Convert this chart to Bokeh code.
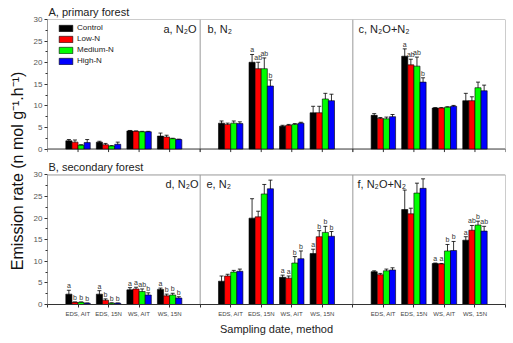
import math
import numpy as np
from bokeh.plotting import figure
from bokeh.models import (Range1d, FixedTicker, Label, Legend, LegendItem, Whisker,
                          TeeHead, ColumnDataSource, Title)
from bokeh.embed import file_html
from bokeh.resources import INLINE
from bokeh.core.properties import value

# ---------------- data ----------------
categories = ["EDS, AIT", "EDS, 15N", "WS, AIT", "WS, 15N"]
treatments = ["Control", "Low-N", "Medium-N", "High-N"]
colors = ["#000000", "#FF0000", "#00FF00", "#0000FF"]

# rows: treatments (Control, Low-N, Medium-N, High-N); columns: categories
a_mean = [[1.9, 1.6, 4.2, 3.0], [1.6, 1.0, 4.1, 2.8], [0.9, 0.7, 4.0, 2.4], [1.5, 1.1, 4.0, 2.2]]
a_err = [[0.3, 0.2, 0.1, 0.7], [0.5, 0.3, 0.1, 0.4], [0.1, 0.1, 0.1, 0.1], [0.7, 0.5, 0.1, 0.1]]
a_let = [["", "", "", ""], ["", "", "", ""], ["", "", "", ""], ["", "", "", ""]]

b_mean = [[6.0, 20.1, 5.3, 8.4], [5.7, 18.6, 5.5, 8.4], [6.0, 18.6, 5.7, 11.6], [5.9, 14.6, 6.0, 11.2]]
b_err = [[0.5, 1.8, 0.2, 1.5], [0.3, 1.5, 0.2, 1.5], [0.5, 2.5, 0.2, 1.3], [0.4, 1.4, 0.2, 1.5]]
b_let = [["", "a", "", ""], ["", "ab", "", ""], ["", "ab", "", ""], ["", "b", "", ""]]

c_mean = [[7.8, 21.5, 9.5, 11.2], [7.1, 19.5, 9.5, 11.2], [7.0, 19.2, 9.7, 14.2], [7.5, 15.5, 9.9, 13.5]]
c_err = [[0.4, 1.7, 0.1, 1.7], [0.2, 1.3, 0.1, 0.9], [0.4, 2.1, 0.1, 1.3], [0.5, 1.0, 0.2, 1.3]]
c_let = [["", "a", "", ""], ["", "ab", "", ""], ["", "ab", "", ""], ["", "b", "", ""]]

d_mean = [[2.4, 2.4, 3.4, 3.5], [0.5, 1.0, 3.6, 2.0], [0.5, 0.3, 3.0, 2.2], [0.3, 0.3, 2.2, 1.5]]
d_err = [[0.9, 0.8, 0.5, 0.3], [0.1, 0.3, 0.4, 0.4], [0.1, 0.1, 0.6, 0.4], [0.05, 0.05, 0.5, 0.3]]
d_let = [["a", "a", "a", "a"], ["b", "b", "a", "b"], ["b", "b", "ab", "b"], ["b", "b", "b", "b"]]

e_mean = [[5.4, 20.0, 6.3, 11.8], [6.6, 20.3, 6.1, 15.7], [7.5, 25.6, 9.6, 16.7], [7.7, 26.8, 10.6, 15.8]]
e_err = [[1.2, 4.5, 0.5, 1.0], [0.4, 1.3, 0.5, 1.4], [0.4, 2.2, 1.5, 1.4], [0.5, 2.0, 1.8, 1.1]]
e_let = [["", "", "a", "a"], ["", "", "a", "b"], ["", "", "b", "b"], ["", "", "b", "b"]]

f_mean = [[7.6, 22.0, 9.5, 14.9], [6.9, 21.0, 9.4, 17.2], [7.8, 25.8, 12.4, 18.4], [8.0, 26.9, 12.5, 17.0]]
f_err = [[0.2, 4.5, 0.1, 0.8], [0.3, 1.3, 0.1, 1.1], [0.4, 2.3, 1.5, 0.9], [0.5, 2.2, 2.1, 1.1]]
f_let = [["", "", "a", "a"], ["", "", "a", "ab"], ["", "", "b", "b"], ["", "", "b", "ab"]]

panel_titles = ["a, N\u2082O", "b, N\u2082", "c, N\u2082O+N\u2082",
                "d, N\u2082O", "e, N\u2082", "f, N\u2082O+N\u2082"]
row_titles = ["A, primary forest", "B, secondary forest"]
x_title = "Sampling date, method"
y_title = "Emission rate (n mol g\u207b\u00b9.h\u207b\u00b9)"
y_ticks = [0, 5, 10, 15, 20, 25, 30]

# ---------------- layout constants ----------------
W, H = 513, 343
FL, FR, FT, FB = 47, 505, 19, 304
ROW = 30
GAP = 6
TOP = ROW + GAP
NPAN = 3
PW = 5  # x-units per panel
FONT = "Liberation Sans"
DARK = "#333333"
GRAY = "#999999"
bar_w = 0.2
offsets = [-0.3, -0.1, 0.1, 0.3]

p = figure(width=W, height=H, x_range=Range1d(0, NPAN * PW), y_range=Range1d(0, TOP + ROW),
           output_backend="svg", toolbar_location=None,
           min_border_left=FL, min_border_right=W - FR, min_border_top=FT, min_border_bottom=H - FB)
p.grid.visible = False
p.outline_line_color = None
p.background_fill_color = "white"

p.title = Title(text=row_titles[0], align="left", offset=1, standoff=3,
                text_font_size="11px", text_font=FONT, text_font_style="normal",
                text_color="#222222")

# x axis (bottom row)
xt = list(range(NPAN * PW + 1))
over = {}
for t in xt:
    k = t % PW
    over[t] = categories[k - 1] if 1 <= k <= 4 else ""
p.xaxis.ticker = FixedTicker(ticks=xt)
p.xaxis.major_label_overrides = over
p.xaxis.major_label_text_font_size = "6px"
p.xaxis.major_label_text_font = FONT
p.xaxis.major_label_text_color = "#444444"
p.xaxis.major_label_standoff = 3
p.xaxis.major_tick_in = 0
p.xaxis.major_tick_out = 3
p.xaxis.minor_tick_line_color = None
p.xaxis.axis_line_color = DARK
p.xaxis.major_tick_line_color = DARK
p.xaxis.axis_label = x_title
p.xaxis.axis_label_text_font_size = "11px"
p.xaxis.axis_label_text_font = FONT
p.xaxis.axis_label_text_font_style = "normal"
p.xaxis.axis_label_text_color = "#222222"
p.xaxis.axis_label_standoff = 3

# y axis (both rows)
yt = y_ticks + [TOP + v for v in y_ticks]
ym = [v + 2.5 for v in y_ticks[:-1]] + [TOP + v + 2.5 for v in y_ticks[:-1]]
p.yaxis.ticker = FixedTicker(ticks=yt, minor_ticks=ym)
yover = {v: str(v) for v in y_ticks}
yover.update({TOP + v: str(v) for v in y_ticks})
p.yaxis.major_label_overrides = yover
p.yaxis.axis_line_color = None
p.yaxis.major_tick_in = 0
p.yaxis.major_tick_out = 3
p.yaxis.minor_tick_in = 0
p.yaxis.minor_tick_out = 2
p.yaxis.major_tick_line_color = DARK
p.yaxis.minor_tick_line_color = DARK
p.yaxis.major_label_text_font_size = "8px"
p.yaxis.major_label_text_font = FONT
p.yaxis.major_label_text_color = "#555555"
p.yaxis.major_label_standoff = 2
# trailing no-break spaces nudge the centred label towards the bottom, as in the reference
p.yaxis.axis_label = y_title + "\u00a0\u00a0\u00a0\u00a0"
p.yaxis.axis_label_text_font_size = "16px"
p.yaxis.axis_label_text_font = FONT
p.yaxis.axis_label_text_font_style = "normal"
p.yaxis.axis_label_text_color = "#111111"
p.yaxis.axis_label_standoff = 5

# frames
for base in (0, TOP):
    p.segment(x0=[0], y0=[base], x1=[0], y1=[base + ROW], line_color=DARK, line_width=1)
    p.segment(x0=[0], y0=[base + ROW], x1=[NPAN * PW], y1=[base + ROW], line_color=GRAY, line_width=1)
    p.segment(x0=[NPAN * PW], y0=[base], x1=[NPAN * PW], y1=[base + ROW], line_color=GRAY, line_width=1)
    divs = [PW * i for i in range(1, NPAN)]
    p.segment(x0=divs, y0=[base - 0.7] * len(divs), x1=divs, y1=[base + ROW] * len(divs),
              line_color=GRAY, line_width=1)
p.segment(x0=[0], y0=[TOP], x1=[NPAN * PW], y1=[TOP], line_color=DARK, line_width=1)
p.segment(x0=xt, y0=[TOP] * len(xt), x1=xt, y1=[TOP - 0.7] * len(xt), line_color=DARK, line_width=1)

# bars
panels = [(a_mean, a_err, a_let), (b_mean, b_err, b_let), (c_mean, c_err, c_let),
          (d_mean, d_err, d_let), (e_mean, e_err, e_let), (f_mean, f_err, f_let)]
legend_r = {}
for pi, (mean, err, let) in enumerate(panels):
    row = pi // 3
    col = pi % 3
    base = TOP if row == 0 else 0
    for ti in range(4):
        m = np.array(mean[ti], dtype=float)
        e = np.array(err[ti], dtype=float)
        x = col * PW + np.arange(1, 5) + offsets[ti]
        src = ColumnDataSource(dict(x=x, top=base + m, bottom=np.full(4, base),
                                    upper=base + m + e, lower=base + m - e, letter=let[ti]))
        r = p.vbar(x="x", top="top", bottom="bottom", width=bar_w, source=src,
                   fill_color=colors[ti], line_color="black", line_width=0.6)
        if pi == 0:
            legend_r[ti] = r
        w = Whisker(source=src, base="x", upper="upper", lower="lower", line_color="black",
                    line_width=0.8,
                    upper_head=TeeHead(size=4, line_color="black", line_width=0.8),
                    lower_head=TeeHead(size=4, line_color="black", line_width=0.8))
        p.add_layout(w)
        p.text(x="x", y="upper", text="letter", source=src, text_align="center",
               text_baseline="bottom", text_font_size="7px", text_font=value(FONT),
               text_color="#333333", y_offset=-1)

legend = Legend(items=[LegendItem(label=treatments[i], renderers=[legend_r[i]]) for i in range(4)],
                location=(10, 239), glyph_width=17, glyph_height=8, label_height=8,
                label_text_font_size="8px", label_text_font=FONT, label_text_color="#222222",
                spacing=2, padding=0, margin=0, label_standoff=3,
                border_line_color=None, background_fill_alpha=0)
p.add_layout(legend)


def lab(text, x, y, size="11px", align="left", angle=0.0, color="#222222"):
    # x, y: pixel position from the picture's top-left; Label screen units are frame-relative
    p.add_layout(Label(x=x - FL, y=FB - y, x_units="screen", y_units="screen", text=text,
                       text_font_size=size, text_font=FONT, text_align=align,
                       text_baseline="middle", angle=angle, text_color=color))


lab(row_titles[1], 48, 166)
lab(panel_titles[0], 163, 28)
lab(panel_titles[1], 207, 28)
lab(panel_titles[2], 358, 28)
lab(panel_titles[3], 165, 183)
lab(panel_titles[4], 206, 183)
lab(panel_titles[5], 357, 183)

open("out.html", "w").write(file_html(p, INLINE))
